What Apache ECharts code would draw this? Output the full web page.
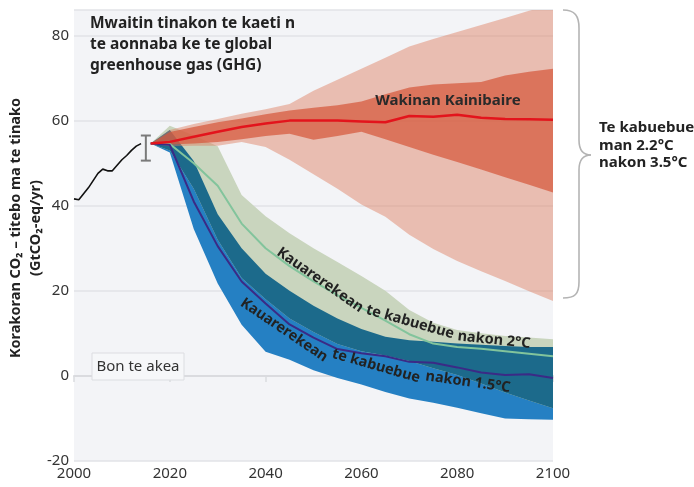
<!DOCTYPE html>
<html>
<head>
<meta charset="utf-8">
<script src="https://cdn.jsdelivr.net/npm/echarts@6/dist/echarts.min.js"></script>
<style>
  html, body { margin: 0; padding: 0; background: #fff; }
  #chart { width: 694px; height: 487px; }
</style>
</head>
<body>
<div id="chart"></div>
<script>
const FONT = "'Noto Sans', sans-serif";

const histYears = [2000, 2001, 2002, 2003, 2004, 2005, 2006, 2007, 2008, 2009, 2010, 2011, 2012, 2013, 2014];
const histValues = [41.6, 41.4, 42.8, 44.2, 45.9, 47.6, 48.6, 48.2, 48.2, 49.5, 50.8, 51.8, 53.0, 54.0, 54.6];
const errorBar = [2015, 50.6, 56.5];

const years = [2016, 2020, 2025, 2030, 2035, 2040, 2045, 2050, 2055, 2060, 2065, 2070, 2075, 2080, 2085, 2090, 2095, 2100];

// current policies (Wakinan Kainibaire)
const redMedian = [54.6, 55.0, 56.2, 57.4, 58.5, 59.3, 60.0, 60.0, 60.0, 59.8, 59.6, 61.1, 60.9, 61.4, 60.7, 60.4, 60.3, 60.2];
const redLightHi = [54.6, 57.8, 59.2, 60.4, 61.6, 62.7, 63.9, 67.0, 69.6, 72.2, 74.8, 77.4, 79.2, 80.8, 82.5, 84.1, 85.8, 87.4];
const redLightLo = [54.6, 54.0, 54.1, 54.1, 55.0, 53.8, 50.8, 47.4, 44.0, 40.3, 37.4, 33.2, 29.8, 27.0, 24.6, 22.3, 19.9, 17.6];
const redDarkHi = [54.6, 57.3, 58.5, 59.6, 60.5, 61.5, 62.4, 63.0, 63.6, 64.5, 66.2, 67.8, 68.5, 68.8, 69.1, 70.6, 71.5, 72.2];
const redDarkLo = [54.6, 54.4, 54.6, 55.0, 55.6, 56.4, 56.9, 55.5, 56.4, 57.4, 55.6, 53.8, 52.0, 50.3, 48.5, 46.7, 44.9, 43.1];

// 2°C pathways
const med2 = [54.6, 54.5, 50.0, 44.7, 35.8, 30.0, 25.8, 22.2, 19.0, 16.0, 13.0, 9.8, 7.6, 6.8, 6.4, 5.8, 5.2, 4.6];
const warm2Hi = [54.6, 58.8, 56.5, 54.0, 42.5, 37.5, 33.5, 30.0, 26.8, 23.5, 20.0, 15.5, 12.5, 10.8, 10.0, 9.4, 9.0, 8.6];
const warm2Lo = [54.6, 53.0, 44.0, 32.0, 23.0, 18.0, 13.5, 10.3, 7.5, 5.8, 4.8, 3.5, 1.8, 0.2, -1.8, -3.9, -5.8, -7.6];

// 1.5°C pathways
const med15 = [54.6, 54.3, 41.0, 30.5, 22.2, 17.0, 12.1, 9.0, 6.3, 5.3, 4.6, 3.3, 3.1, 2.0, 0.8, 0.2, 0.4, -0.5];
const warm15Hi = [54.6, 57.8, 50.5, 38.0, 30.0, 24.0, 20.0, 16.5, 13.5, 11.0, 9.2, 8.4, 8.0, 7.6, 7.3, 7.0, 6.8, 6.8];
const warm15Lo = [54.6, 52.5, 34.5, 21.7, 12.0, 5.7, 3.8, 1.3, -0.5, -2.0, -3.8, -5.3, -6.3, -7.5, -8.8, -10.0, -10.2, -10.3];

const yTicks = [-20, 0, 20, 40, 60, 80];

const pairs = (xs, vs) => xs.map((x, i) => [x, vs[i]]);
const overlapLo = warm2Lo.map((v, i) => Math.max(v, warm15Lo[i]));
const overlapHi = warm2Hi.map((v, i) => Math.min(v, warm15Hi[i]));

// a filled range between two curves, drawn as one polygon from the axis scales
function band(lo, hi, color, z) {
  return {
    type: 'custom', clip: true, silent: true, z,
    data: years.map((y, i) => [y, lo[i], hi[i]]),
    encode: { x: 0, y: [1, 2] },
    renderItem(params, api) {
      if (params.dataIndex !== 0) return null;
      const top = years.map((y, i) => api.coord([y, hi[i]]));
      const bottom = years.map((y, i) => api.coord([y, lo[i]])).reverse();
      return { type: 'polygon', shape: { points: top.concat(bottom) }, style: { fill: color } };
    }
  };
}
function line(xs, values, color, width) {
  return { type: 'line', data: pairs(xs, values), symbol: 'none', silent: true,
    lineStyle: { color, width }, z: 5 };
}
function bandLabel(text, x, y, deg) {
  return { type: 'text', x, y, rotation: -deg * Math.PI / 180, z: 10,
    style: { text, font: 'bold 14.5px ' + FONT, fill: '#222', textAlign: 'center', textVerticalAlign: 'middle' } };
}

const braceStyle = { stroke: '#b4b4b4', lineWidth: 1.6, fill: null };

const chart = echarts.init(document.getElementById('chart'));
chart.setOption({
  animation: false,
  textStyle: { fontFamily: FONT },
  grid: { left: 74, right: 141, top: 10, bottom: 26, show: true, backgroundColor: '#f3f4f7', borderWidth: 0 },
  xAxis: {
    type: 'value', min: 2000, max: 2100, interval: 20,
    axisLine: { lineStyle: { color: '#dadbdf', width: 2 } },
    axisTick: { show: true, length: 6, lineStyle: { color: '#dadbdf', width: 1.5 } },
    axisLabel: { color: '#333', fontSize: 15, margin: 5, fontFamily: FONT, formatter: (v) => String(v) },
    splitLine: { show: false }
  },
  yAxis: {
    type: 'value', min: -20, max: 86, interval: 20,
    axisLine: { show: false }, axisTick: { show: false },
    axisLabel: { color: '#333', fontSize: 15, margin: 5, fontFamily: FONT,
      formatter: (v) => (yTicks.includes(v) ? String(v) : '') },
    splitLine: { lineStyle: { color: '#e2e3e7', width: 1.5 } }
  },
  series: [
    band(warm15Lo, warm15Hi, '#2580c3', 2),
    band(warm2Lo, warm2Hi, '#c9d5be', 2),
    band(overlapLo, overlapHi, '#1c6a8b', 2),
    band(redLightLo, redLightHi, 'rgba(222,124,94,0.46)', 3),
    band(redDarkLo, redDarkHi, 'rgba(214,88,60,0.72)', 3),
    line(years, med2, '#82c49c', 2),
    line(years, med15, '#3b2a86', 2),
    line(years, redMedian, '#e3141c', 2.5),
    line(histYears, histValues, '#111', 1.6),
    {
      type: 'custom', silent: true, z: 6,
      data: [errorBar],
      encode: { x: 0, y: [1, 2] },
      renderItem(params, api) {
        const x = api.value(0);
        const p1 = api.coord([x, api.value(1)]);
        const p2 = api.coord([x, api.value(2)]);
        const st = { stroke: '#7a7a7a', lineWidth: 2 };
        return {
          type: 'group',
          children: [
            { type: 'line', shape: { x1: p1[0], y1: p1[1], x2: p2[0], y2: p2[1] }, style: st },
            { type: 'line', shape: { x1: p1[0] - 5, y1: p1[1], x2: p1[0] + 5, y2: p1[1] }, style: st },
            { type: 'line', shape: { x1: p2[0] - 5, y1: p2[1], x2: p2[0] + 5, y2: p2[1] }, style: st }
          ]
        };
      }
    }
  ],
  graphic: [
    { type: 'text', x: 90, y: 13, z: 10,
      style: { text: 'Mwaitin tinakon te kaeti n\nte aonnaba ke te global\ngreenhouse gas (GHG)',
        font: 'bold 15.5px ' + FONT, lineHeight: 21, fill: '#222' } },
    { type: 'text', x: 448, y: 101, z: 10,
      style: { text: 'Wakinan Kainibaire', font: 'bold 15px ' + FONT, fill: '#2a2a2a',
        textAlign: 'center', textVerticalAlign: 'middle' } },
    { type: 'text', x: 599, y: 119, z: 10,
      style: { text: 'Te kabuebue\nman 2.2°C\nnakon 3.5°C', font: 'bold 15px ' + FONT, lineHeight: 17.5,
        fill: '#222' } },
    { type: 'bezierCurve', z: 10, style: braceStyle,
      shape: { x1: 563, y1: 10, cpx1: 575, cpy1: 10, cpx2: 579, cpy2: 16, x2: 579, y2: 28 } },
    { type: 'line', z: 10, style: braceStyle, shape: { x1: 579, y1: 28, x2: 579, y2: 140 } },
    { type: 'bezierCurve', z: 10, style: braceStyle,
      shape: { x1: 579, y1: 140, cpx1: 579, cpy1: 150, cpx2: 583, cpy2: 155, x2: 591, y2: 155 } },
    { type: 'bezierCurve', z: 10, style: braceStyle,
      shape: { x1: 591, y1: 155, cpx1: 583, cpy1: 155, cpx2: 579, cpy2: 160, x2: 579, y2: 170 } },
    { type: 'line', z: 10, style: braceStyle, shape: { x1: 579, y1: 170, x2: 579, y2: 282 } },
    { type: 'bezierCurve', z: 10, style: braceStyle,
      shape: { x1: 579, y1: 282, cpx1: 579, cpy1: 294, cpx2: 575, cpy2: 298, x2: 563, y2: 298 } },
    { type: 'rect', z: 10, shape: { x: 92, y: 353, width: 92, height: 27 },
      style: { fill: '#f6f7f9', stroke: '#dcdde1', lineWidth: 1 } },
    { type: 'text', x: 138, y: 367, z: 11,
      style: { text: 'Bon te akea', font: '15px ' + FONT, fill: '#333', textAlign: 'center', textVerticalAlign: 'middle' } },
    { type: 'text', x: 16, y: 228, rotation: Math.PI / 2, z: 10,
      style: { text: 'Korakoran CO₂ – titebo ma te tinako', font: 'bold 14.5px ' + FONT, fill: '#222',
        textAlign: 'center', textVerticalAlign: 'middle' } },
    { type: 'text', x: 36, y: 228, rotation: Math.PI / 2, z: 10,
      style: { text: '(GtCO₂-eq/yr)', font: 'bold 14.5px ' + FONT, fill: '#222',
        textAlign: 'center', textVerticalAlign: 'middle' } },
    bandLabel('Kauarerekean', 320, 280, 35),
    bandLabel('te kabuebue', 410, 322, 16),
    bandLabel('nakon 2°C', 494, 340, 6),
    bandLabel('Kauarerekean', 284, 330, 34),
    bandLabel('te kabuebue', 376, 366, 16),
    bandLabel('nakon 1.5°C', 468, 382, 8)
  ]
});
</script>
</body>
</html>
